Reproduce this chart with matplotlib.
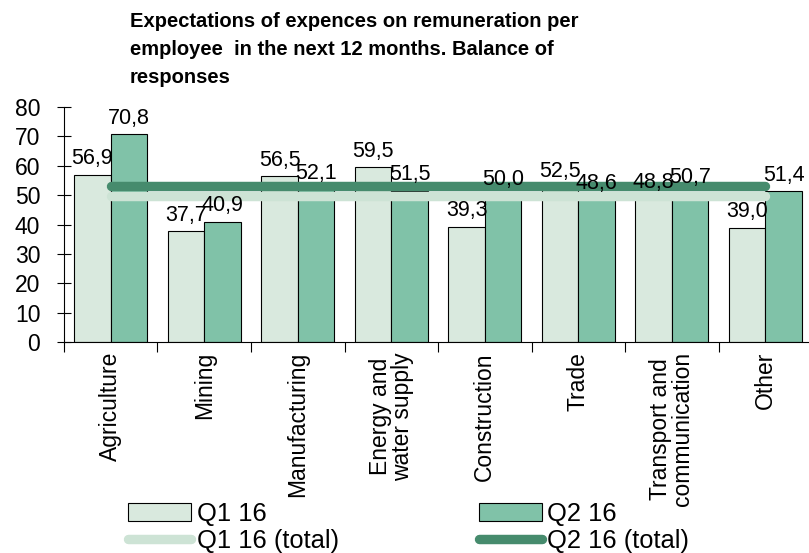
import matplotlib.pyplot as plt
import numpy as np

plt.rcParams['font.family'] = ['Liberation Sans', 'DejaVu Sans']

categories = ["Agriculture", "Mining", "Manufacturing", "Energy and\nwater supply",
              "Construction", "Trade", "Transport and\ncommunication", "Other"]
q1 = [56.9, 37.7, 56.5, 59.5, 39.3, 52.5, 48.8, 39.0]
q2 = [70.8, 40.9, 52.1, 51.5, 50.0, 48.6, 50.7, 51.4]
q1_total = 49.9
q2_total = 53.1

fig = plt.figure(figsize=(8.09, 5.53), dpi=100)
ax = fig.add_axes([0.079, 0.381, 0.925, 0.4255])

x = np.arange(len(categories))
w = 0.39
b1 = ax.bar(x - w/2, q1, w, color="#d9e9de", edgecolor="black", linewidth=0.8, label="Q1 16")
b2 = ax.bar(x + w/2, q2, w, color="#80c2a8", edgecolor="black", linewidth=0.8, label="Q2 16")

l1, = ax.plot([x[0], x[-1]], [q1_total, q1_total], color="#cde3d5", lw=6.8,
              solid_capstyle="round", label="Q1 16 (total)")
l2, = ax.plot([x[0], x[-1]], [q2_total, q2_total], color="#468b6d", lw=6.8,
              solid_capstyle="round", label="Q2 16 (total)")

for bars, vals in ((b1, q1), (b2, q2)):
    for r, v in zip(bars, vals):
        ax.annotate(f"{v:.1f}".replace(".", ","), (r.get_x() + r.get_width()/2, v),
                    xytext=(0, 4), textcoords="offset points", ha="center", va="bottom",
                    fontsize=15.5)

ax.set_xlim(-0.5, len(categories) - 0.5)
ax.set_ylim(0, 80)
ax.set_yticks(range(0, 81, 10))
ax.tick_params(axis="y", direction="inout", length=10, width=0.8, labelsize=16.5, pad=12)
ax.set_xticks(x)
ax.set_xticklabels(categories, rotation=90, fontsize=16.5, linespacing=0.95)
ax.tick_params(axis="x", length=0, pad=7)
ax.set_xticks(np.arange(-0.5, len(categories), 1), minor=True)
ax.tick_params(axis="x", which="minor", direction="out", length=7, width=0.8)
ax.spines["top"].set_visible(False)
ax.spines["right"].set_visible(False)

fig.text(130/809, 1 - 12/553, "Expectations of expences on remuneration per\n"
         "employee  in the next 12 months. Balance of\nresponses",
         ha="left", va="top", fontsize=14.5, fontweight="bold", linespacing=1.6)

fig.legend(handles=[b1, l1, b2, l2], labels=["Q1 16", "Q1 16 (total)", "Q2 16", "Q2 16 (total)"],
           ncol=2, loc="upper left", bbox_to_anchor=(128/809, 1 - 502/553), frameon=False,
           fontsize=18.4, handlelength=2.46, handletextpad=0.23, columnspacing=5.47,
           labelspacing=0.1, borderpad=0, borderaxespad=0)

fig.savefig("out.png", dpi=100)
